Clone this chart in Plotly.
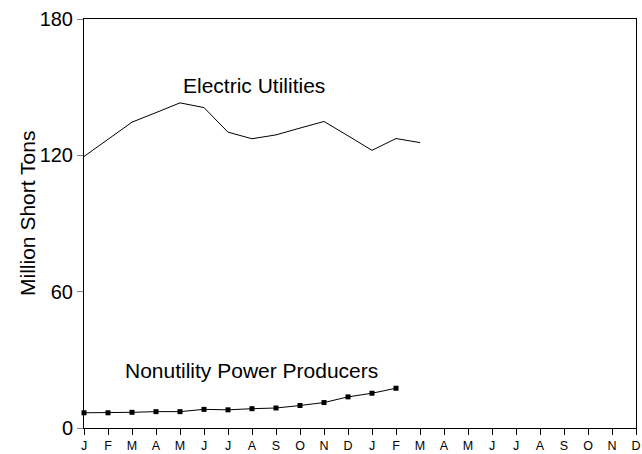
import plotly.graph_objects as go

month_labels = ["J", "F", "M", "A", "M", "J", "J", "A", "S", "O", "N", "D",
                "J", "F", "M", "A", "M", "J", "J", "A", "S", "O", "N", "D"]

electric_utilities = [119.5, 127.0, 134.6, 138.8, 143.1, 141.0, 130.2, 127.3,
                      129.0, 132.0, 134.9, 128.6, 122.2, 127.4, 125.6]

nonutility_producers = [6.7, 6.7, 6.9, 7.2, 7.2, 8.2, 8.0, 8.5, 8.8, 9.9,
                        11.2, 13.7, 15.3, 17.5]

y_ticks = [0, 60, 120, 180]

FONT = "Liberation Sans, Arial, sans-serif"

fig = go.Figure()
fig.add_trace(go.Scatter(
    x=list(range(len(electric_utilities))), y=electric_utilities,
    mode="lines", line=dict(color="black", width=1),
    cliponaxis=False, showlegend=False))
fig.add_trace(go.Scatter(
    x=list(range(len(nonutility_producers))), y=nonutility_producers,
    mode="lines+markers", line=dict(color="black", width=1),
    marker=dict(symbol="square", size=5, color="black"),
    cliponaxis=False, showlegend=False))

fig.add_annotation(x=7.1, y=150.6, text="Electric Utilities", showarrow=False,
                   font=dict(family=FONT, size=21, color="black"))
fig.add_annotation(x=6.98, y=25.4, text="Nonutility Power Producers", showarrow=False,
                   font=dict(family=FONT, size=21, color="black"))
# y-axis title
fig.add_annotation(xref="paper", yref="paper", x=-0.102, y=0.525,
                   xanchor="center", yanchor="middle",
                   text="Million Short Tons", textangle=-90, showarrow=False,
                   font=dict(family=FONT, size=21, color="black"))

fig.update_layout(
    width=642, height=454,
    margin=dict(l=84, r=6, t=19, b=26),
    paper_bgcolor="white", plot_bgcolor="white",
    font=dict(family=FONT, color="black"),
    xaxis=dict(range=[0, 23], tickmode="array", automargin=False,
               tickvals=list(range(len(month_labels))), ticktext=month_labels,
               showgrid=False, zeroline=False,
               showline=True, linecolor="black", linewidth=1, mirror=True,
               ticks="outside", ticklen=6, tickcolor="black",
               ticklabelstandoff=0,
               tickfont=dict(family=FONT, size=12.5, color="black")),
    yaxis=dict(range=[0, 180], tickmode="array", tickvals=y_ticks, automargin=False,
               showgrid=False, zeroline=False,
               showline=True, linecolor="black", linewidth=1, mirror=True,
               ticks="outside", ticklen=6, tickcolor="gray",
               tickfont=dict(family=FONT, size=20, color="black")),
)

fig.write_html("out.html", config={"displayModeBar": False},
               post_script="document.body.style.margin='0';document.body.style.overflow='hidden';")
